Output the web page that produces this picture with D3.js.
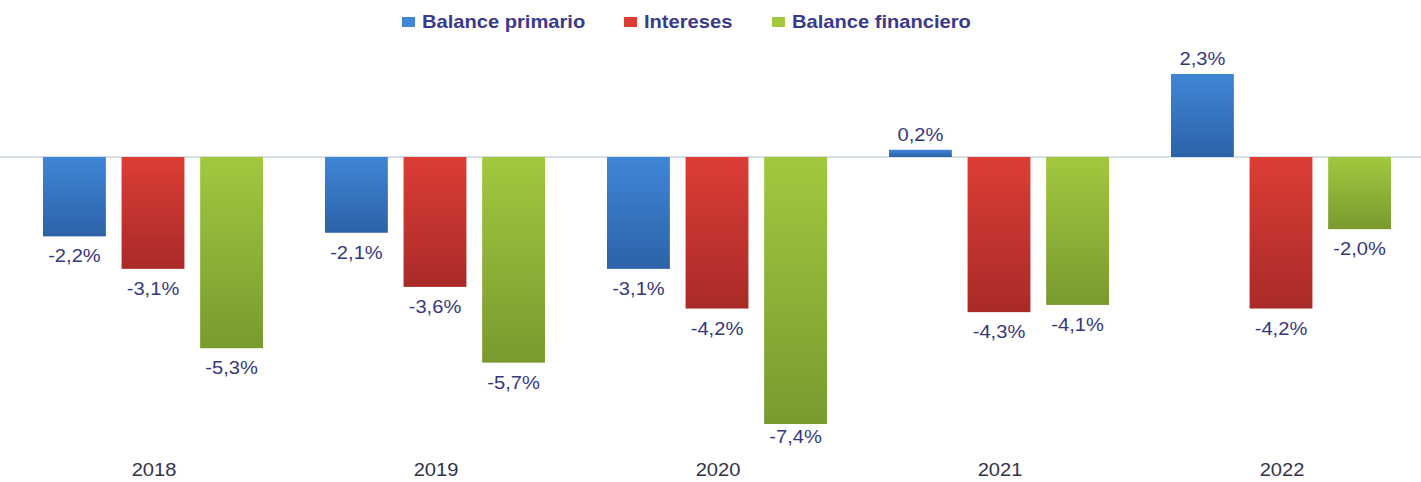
<!DOCTYPE html>
<html>
<head>
<meta charset="utf-8">
<script src="https://cdn.jsdelivr.net/npm/d3@7"></script>
<style>
  body { margin: 0; background: #fff; }
  svg { display: block; font-family: "Liberation Sans", Arial, sans-serif; }
</style>
</head>
<body>
<svg width="1421" height="482"></svg>
<script>
var years = ['2018', '2019', '2020', '2021', '2022']
var seriesNames = ['Balance primario', 'Intereses', 'Balance financiero']
var primario = [-2.2, -2.1, -3.1, 0.2, 2.3]
var intereses = [-3.1, -3.6, -4.2, -4.3, -4.2]
var financiero = [-5.3, -5.7, -7.4, -4.1, -2.0]

var seriesValues = [primario, intereses, financiero]
var colors = [
    ['#3f86d6', '#2c62a8'],
    ['#dc3d36', '#a92a28'],
    ['#a2c83f', '#799a2f']
]

var svg = d3.select('svg')
var width = 1421
var stretch = 1.15   // the text in the picture is a little wide

var defs = svg.append('defs')
colors.forEach((c, i) => {
    var g = defs.append('linearGradient')
        .attr('id', 'grad' + i)
        .attr('x1', 0).attr('y1', 0).attr('x2', 0).attr('y2', 1)
    g.append('stop').attr('offset', '0%').attr('stop-color', c[0])
    g.append('stop').attr('offset', '100%').attr('stop-color', c[1])
})

var x0 = d3.scaleBand()
    .domain(years)
    .range([12, 1422])

var x1 = d3.scaleBand()
    .domain(seriesNames)
    .range([31, 251])
    .paddingInner(0.2)
    .paddingOuter(0)

var y = d3.scaleLinear()
    .domain([-7.4, 2.3])
    .range([424, 74])

var fmt = v => d3.format('.1f')(v).replace('.', ',').replace('−', '-') + '%'
var place = (x, yy) => 'translate(' + x + ',' + yy + ') scale(' + stretch + ',1)'

// zero line
svg.append('line')
    .attr('x1', 0)
    .attr('x2', width)
    .attr('y1', y(0))
    .attr('y2', y(0))
    .style('stroke', '#c9d6de')
    .style('stroke-width', 1.5)

var data = []
years.forEach((yr, i) => {
    seriesNames.forEach((s, j) => {
        data.push({ year: yr, series: s, idx: j, value: seriesValues[j][i] })
    })
})

svg.append('g')
    .selectAll('rect')
    .data(data)
    .enter()
    .append('rect')
    .attr('x', d => x0(d.year) + x1(d.series))
    .attr('width', x1.bandwidth())
    .attr('y', d => Math.min(y(d.value), y(0)))
    .attr('height', d => Math.abs(y(d.value) - y(0)))
    .style('fill', d => 'url(#grad' + d.idx + ')')

svg.append('g')
    .selectAll('text')
    .data(data)
    .enter()
    .append('text')
    .attr('transform', d => place(
        x0(d.year) + x1(d.series) + x1.bandwidth() / 2,
        d.value < 0 ? Math.min(y(d.value) + 26, 443) : y(d.value) - 9))
    .attr('text-anchor', 'middle')
    .style('font-size', '17.5px')
    .style('fill', '#37377e')
    .text(d => fmt(d.value))

// year labels
svg.append('g')
    .selectAll('text')
    .data(years)
    .enter()
    .append('text')
    .attr('transform', d => place(x0(d) + x0.bandwidth() / 2 + 1, 476))
    .attr('text-anchor', 'middle')
    .style('font-size', '17.5px')
    .style('fill', '#33334a')
    .text(d => d)

// legend
var legendX = [402, 624, 772]
var legend = svg.append('g')
seriesNames.forEach((s, i) => {
    legend.append('rect')
        .attr('x', legendX[i])
        .attr('y', 17)
        .attr('width', 13)
        .attr('height', 10)
        .style('fill', colors[i][0])
    legend.append('text')
        .attr('transform', place(legendX[i] + 20, 28))
        .style('font-size', '17.5px')
        .style('font-weight', 'bold')
        .style('fill', '#3a3a8c')
        .text(s)
})
</script>
</body>
</html>
